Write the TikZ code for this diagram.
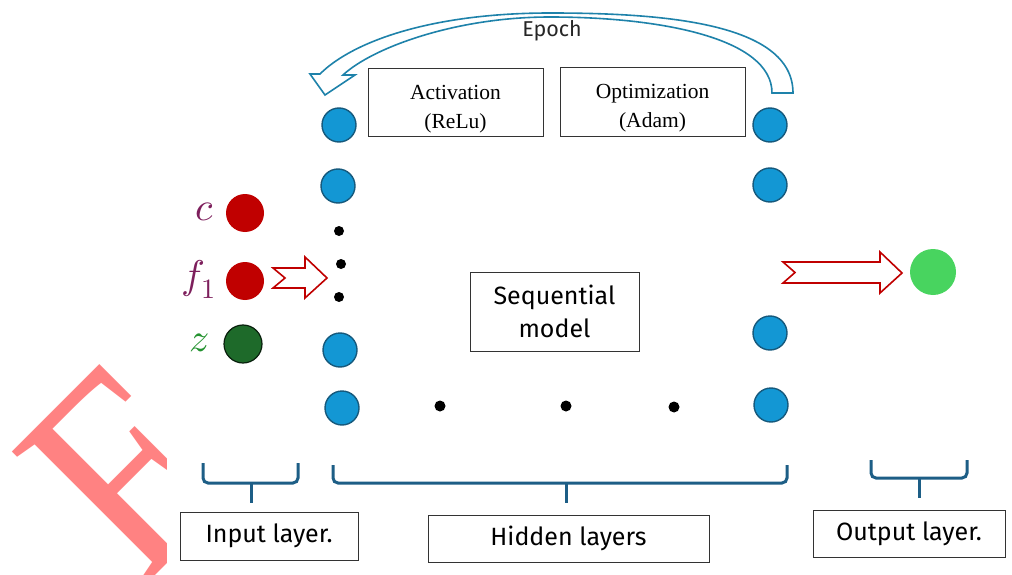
\documentclass[tikz,border=0pt]{standalone}
\usepackage{fontspec}
\usepackage{unicode-math}
\setmainfont{Liberation Serif}
\setsansfont{Fira Sans}
\setmathfont{Latin Modern Math}
\usetikzlibrary{positioning}

\definecolor{neuronblue}{HTML}{1397D4}
\definecolor{neuronedge}{HTML}{16597C}
\definecolor{epochteal}{HTML}{1E82AA}
\definecolor{bracecol}{HTML}{1D5E86}
\definecolor{inred}{HTML}{C00000}
\definecolor{indark}{HTML}{1E6A2A}
\definecolor{outgreen}{HTML}{48D45F}
\definecolor{labpurple}{HTML}{7D1F5C}
\definecolor{labgreen}{HTML}{23922F}
\definecolor{wmred}{HTML}{FF8282}
\definecolor{boxgray}{HTML}{333333}

\begin{document}
\begin{tikzpicture}[x=1pt,y=-1pt,
  neuron/.style={circle,draw=neuronedge,fill=neuronblue,line width=1.4pt,minimum size=34pt,inner sep=0pt},
  inunit/.style={circle,minimum size=38pt,inner sep=0pt},
  dotnode/.style={circle,fill=black,minimum size=10pt,inner sep=0pt},
  labelbox/.style={draw=boxgray,line width=1pt,inner sep=0pt,align=center,font=\fontsize{25}{31}\selectfont\sffamily},
  framebox/.style={draw=boxgray,line width=1pt,inner sep=0pt},
  seriftext/.style={align=center,font=\fontsize{21.5}{29}\selectfont},
  mathlab/.style={inner sep=0pt,font=\fontsize{40}{40}\selectfont},
  brace/.style={draw=bracecol,line width=3pt,rounded corners=5pt},
  hollowarrow/.style={draw=inred,fill=white,line width=1.6pt,line join=miter}]

\useasboundingbox (0,0) rectangle (1012,575);

% watermark letter
\begin{scope}
  \clip (0,330) rectangle (166,575);
  \node[text=wmred,font=\fontsize{240}{240}\selectfont,rotate=45,anchor=base west,inner sep=0pt] (wmark) at (140,591) {\scalebox{1.05}[1.2]{F}};
\end{scope}

% input layer
\node[inunit,fill=inred] (inc) at (245,213) {};
\node[inunit,fill=inred] (inf) at (245,281) {};
\node[inunit,fill=indark,draw=black!70!indark,line width=1.2pt] (inz) at (243,344) {};
\node[mathlab,text=labpurple] (labc) at (205,212) {$c$};
\node[mathlab,text=labpurple] (labf) at (199,279) {$f_1$};
\node[mathlab,text=labgreen] (labz) at (199,343) {$z$};

% hidden layers
\node[neuron] (h11) at (339,125) {};
\node[neuron] (h12) at (338,186) {};
\node[neuron] (h13) at (340,350) {};
\node[neuron] (h14) at (342,408) {};
\node[neuron] (h21) at (770,125) {};
\node[neuron] (h22) at (770,185) {};
\node[neuron] (h23) at (770,333) {};
\node[neuron] (h24) at (771,405) {};
\node[dotnode] (v1) at (339,231) {};
\node[dotnode] (v2) at (341,264) {};
\node[dotnode] (v3) at (339,297) {};
\node[dotnode,minimum size=11pt] (d1) at (440,406) {};
\node[dotnode,minimum size=11pt] (d2) at (566,406) {};
\node[dotnode,minimum size=11pt] (d3) at (674,407) {};

% output layer
\node[circle,fill=outgreen,minimum size=46pt,inner sep=0pt] (out) at (933,272) {};

% boxes
\node[framebox,minimum width=175pt,minimum height=68pt] (act) at (455.5,103) {};
\node[seriftext] (acttext) at ([yshift=-6pt]act.center) {Activation\\(ReLu)};
\node[framebox,minimum width=185pt,minimum height=69pt] (opt) at (652.5,102.5) {};
\node[seriftext] (opttext) at ([yshift=-6pt]opt.center) {Optimization\\(Adam)};
\node[labelbox,minimum width=169pt,minimum height=79pt,font=\fontsize{25}{33}\selectfont\sffamily] (seq) at (554.5,311.5) {Sequential\\model};
\node[font=\fontsize{21.5}{21.5}\selectfont\sffamily,text=black!85] (epoch) at (552,31) {Epoch};
\node[labelbox,minimum width=178pt,minimum height=48pt] (inbox) at (269,536) {Input layer.};
\node[labelbox,minimum width=281pt,minimum height=47pt] (hidbox) at (568.5,538.5) {Hidden layers};
\node[labelbox,minimum width=192pt,minimum height=47pt] (outbox) at (909,533.5) {Output layer.};

% epoch arrow
\draw[draw=epochteal,fill=white,line width=1.6pt,line join=miter]
  (772,93) -- (793,93) .. controls (793,22) and (660,13) .. (550,13)
  .. controls (430,13) and (352,42) .. (320,74) -- (310,74) -- (325,95) -- (355,75) -- (343,75)
  .. controls (372,48) and (455,17) .. (550,17)
  .. controls (660,17) and (772,38) .. (772,93) -- cycle;

% red block arrows
\draw[hollowarrow] (273,268) -- (305,268) -- (305,257) -- (327,278) -- (305,298) -- (305,288) -- (273,288) -- (285,278) -- cycle;
\draw[hollowarrow] (783,262) -- (880,262) -- (880,252) -- (902,273) -- (880,293) -- (880,283) -- (783,283) -- (795,272.5) -- cycle;

% braces
\draw[brace] (203,463) |- (298,483) -- (298,463);
\draw[bracecol,line width=3pt] (251,483) -- (251,503);
\draw[brace] (333,465) |- (787,483) -- (787,465);
\draw[bracecol,line width=3pt] (566,483) -- (566,503);
\draw[brace] (871,460) |- (967,478) -- (967,460);
\draw[bracecol,line width=3pt] (919,478) -- (919,498);

\end{tikzpicture}
\end{document}
